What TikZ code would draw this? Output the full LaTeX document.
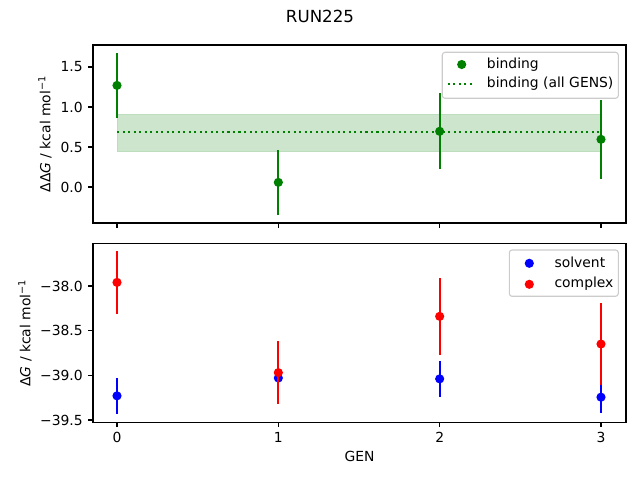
\documentclass[tikz,border=0pt]{standalone}
\usepackage{fontspec}
\setmainfont{DejaVu Sans}
\definecolor{mplgreen}{RGB}{0,128,0}
\definecolor{mplblue}{RGB}{0,0,255}
\definecolor{mplred}{RGB}{255,0,0}
\definecolor{framegray}{gray}{0.8}
\usetikzlibrary{positioning}
\tikzset{
  errbar/.style={line width=1.5pt},
  axtick/.style={line width=0.8pt},
  meanline/.style={line width=1.5pt, dash pattern=on 1.5pt off 2.475pt},
  legendbox/.style={draw=framegray, fill=white, fill opacity=0.8, rounded corners=2pt, line width=0.8pt},
}

\begin{document}
\begin{tikzpicture}[x=0.72pt, y=-0.72pt]
  \useasboundingbox (0,0) rectangle (640,480);
  \node (title) at (320,16) {\fontsize{12}{14}\selectfont RUN225};

  % binding free energy per GEN
  \begin{scope}[shift={(117,187)}, x=116.16pt, y=57.6pt]
    \fill[mplgreen!20, draw=mplgreen!26] (0,0.45) rectangle (3,0.91);
    \draw[mplgreen, meanline] (0,0.69) -- (3,0.69);
    \foreach \g/\v/\e in {0/1.27/0.405, 1/0.058/0.408, 2/0.696/0.475, 3/0.596/0.493} {
      \draw[mplgreen, errbar] (\g,\v-\e) -- (\g,\v+\e);
      \fill[mplgreen] (\g,\v) circle[radius=3.3pt];
    }
    \draw[line width=0.8pt] (-0.149,-0.45) rectangle (3.155,1.775);
    \foreach \v [count=\i] in {0.0,0.5,1.0,1.5}
      \draw[axtick] (-0.149,\v) -- ++(-3.5pt,0) node[left=3.5pt, inner sep=0pt] (ttop\i) {\v};
    \foreach \g in {0,...,3}
      \draw[axtick] (\g,-0.45) -- ++(0,-3.5pt);
  \end{scope}
  \node[rotate=90] (ylabtop) at (45,134) {ΔΔ\textit{G} / kcal mol\textsuperscript{−1}};

  \draw[legendbox] (442.3,52.3) rectangle (618.3,98.3);
  \fill[mplgreen] (461.7,64.5) circle[radius=3.3pt];
  \node[anchor=west, inner sep=0pt] (legbind) at (486.7,64.5) {binding};
  \draw[mplgreen, meanline] (447.7,84) -- (475,84);
  \node[anchor=west, inner sep=0pt] (legall) at (486.7,84) {binding (all GENS)};

  % solvent and complex legs
  \begin{scope}[shift={(117,-3108.7)}, x=116.16pt, y=64.32pt]
    \foreach \g/\v/\e in {0/-39.23/0.2, 1/-39.03/0.18, 2/-39.04/0.2, 3/-39.245/0.175} {
      \draw[mplblue, errbar] (\g,\v-\e) -- (\g,\v+\e);
      \fill[mplblue] (\g,\v) circle[radius=3.3pt];
    }
    \foreach \g/\v/\e in {0/-37.96/0.355, 1/-38.97/0.353, 2/-38.34/0.43, 3/-38.65/0.46} {
      \draw[mplred, errbar] (\g,\v-\e) -- (\g,\v+\e);
      \fill[mplred] (\g,\v) circle[radius=3.3pt];
    }
    \draw[line width=0.8pt] (-0.149,-39.526) rectangle (3.155,-37.524);
    \foreach \v/\t [count=\i] in {-38.0/−38.0, -38.5/−38.5, -39.0/−39.0, -39.5/−39.5}
      \draw[axtick] (-0.149,\v) -- ++(-3.5pt,0) node[left=3.5pt, inner sep=0pt] (tbot\i) {\t};
    \foreach \g in {0,...,3}
      \draw[axtick] (\g,-39.526) -- ++(0,-3.5pt) node[below=3.5pt, inner sep=0pt] (tgen\g) {\g};
  \end{scope}
  \node[rotate=90] (ylabbot) at (25,333) {Δ\textit{G} / kcal mol\textsuperscript{−1}};
  \node (xlab) at (359.5,456.7) {GEN};

  \draw[legendbox] (509.3,250) rectangle (618.3,296.3);
  \fill[mplblue] (529.3,263.3) circle[radius=3.3pt];
  \node[anchor=west, inner sep=0pt] (legsolv) at (554.3,262.5) {solvent};
  \fill[mplred] (529.3,284.3) circle[radius=3.3pt];
  \node[anchor=west, inner sep=0pt] (legcplx) at (554.3,284) {complex};
\end{tikzpicture}
\end{document}
